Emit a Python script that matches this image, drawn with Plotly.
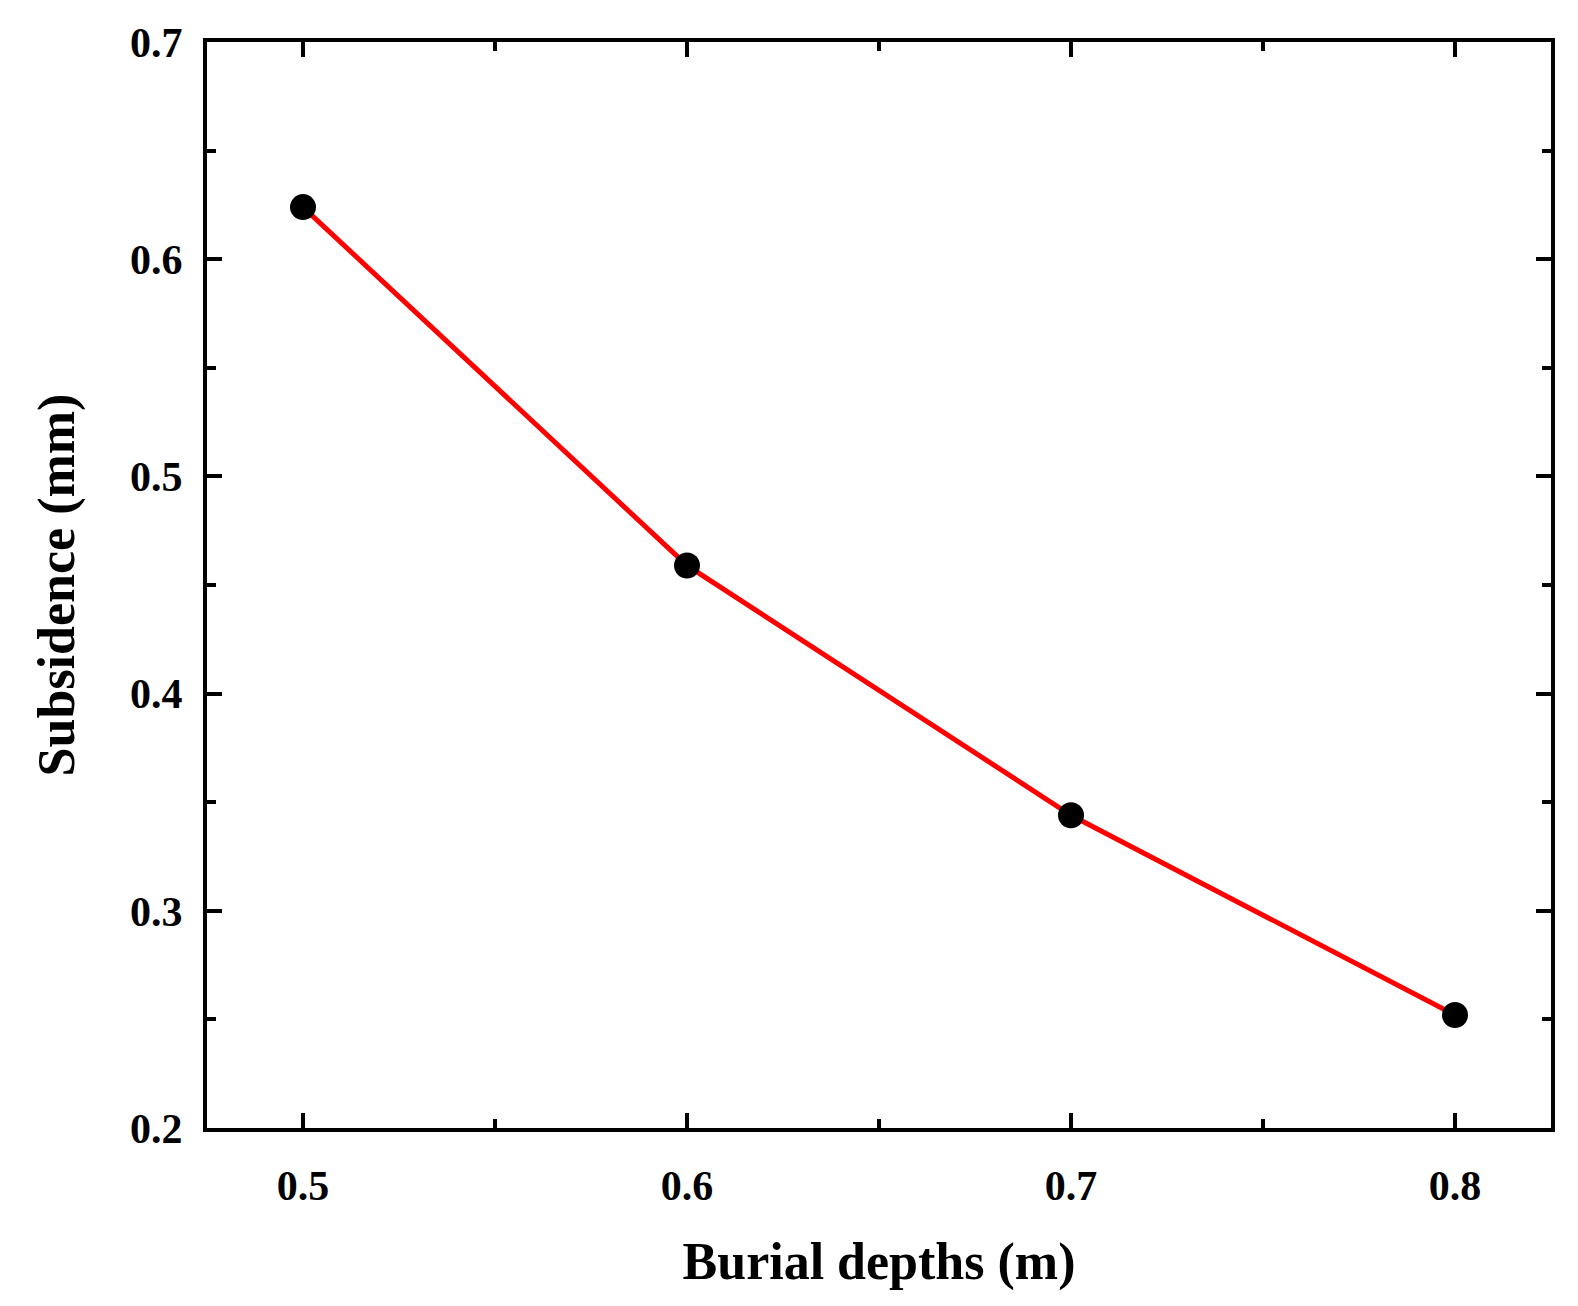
import plotly.graph_objects as go

depths = [0.5, 0.6, 0.7, 0.8]
subsidence = [0.624, 0.459, 0.344, 0.252]

fig = go.Figure(go.Scatter(x=depths, y=subsidence, mode="lines+markers",
    line=dict(color="#ff0000", width=5),
    marker=dict(color="black", size=26), showlegend=False))

font = dict(family="Liberation Serif", size=42, color="black", weight="bold")
common = dict(showline=True, linewidth=4, linecolor="black", mirror="ticks",
    ticks="inside", ticklen=15, tickwidth=4, tickcolor="black",
    showgrid=False, zeroline=False, tickfont=font,
    minor=dict(ticks="inside", ticklen=9, tickwidth=4, tickcolor="black"))
tfont = dict(family="Liberation Serif", size=52, color="black", weight="bold")
fig.update_xaxes(range=[0.475, 0.825], tickvals=[0.5, 0.6, 0.7, 0.8],
    ticktext=["0.5", "0.6", "0.7", "0.8"], minor_dtick=0.05,
    title=dict(text="Burial depths (m)", font=tfont, standoff=35),
    ticklabelstandoff=18, **common)
fig.update_yaxes(range=[0.2, 0.7], dtick=0.1, tickformat=".1f", minor_dtick=0.05,
    title=dict(text="Subsidence (mm)", font=tfont, standoff=40),
    ticklabelstandoff=12, **common)
fig.update_layout(width=1578, height=1306, margin=dict(l=199, r=35, t=32, b=186),
    plot_bgcolor="white", paper_bgcolor="white")
fig.write_html("out.html")
